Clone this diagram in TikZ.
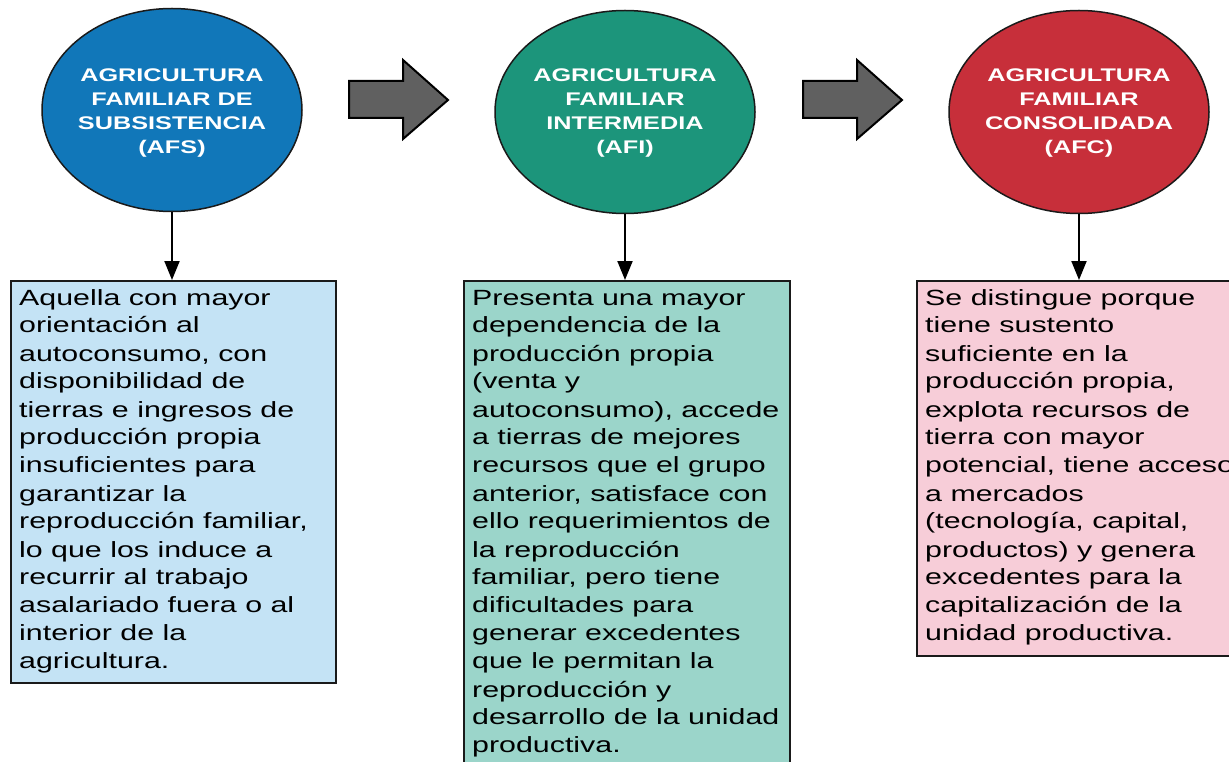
\documentclass[tikz,border=0pt]{standalone}
\usepackage{fontspec}
\setmainfont[FakeStretch=1.38]{Liberation Sans}
\usetikzlibrary{shapes.geometric,arrows.meta}
\definecolor{cblue}{HTML}{1177B9}
\definecolor{cgreen}{HTML}{1C957B}
\definecolor{cred}{HTML}{C72F3A}
\definecolor{fblue}{HTML}{C4E3F5}
\definecolor{fgreen}{HTML}{9BD5CA}
\definecolor{fred}{HTML}{F7CDD8}
\definecolor{agray}{HTML}{606060}
\definecolor{edge}{HTML}{1A1A1A}
\tikzset{
  oval/.style={ellipse, draw=edge, line width=1.5pt, minimum width=260pt, minimum height=203pt, inner sep=0pt},
  ovaltext/.style={text=white, align=center, inner sep=0pt, font=\fontsize{18.3}{24}\selectfont\bfseries},
  infobox/.style={rectangle, draw=edge, line width=2pt, anchor=north west, inner sep=0pt},
  infotext/.style={anchor=base west, inner sep=0pt, text=black},
  down/.style={line width=2pt, -{Triangle[width=15pt,length=19pt]}},
  blockarrow/.style={fill=agray, draw=black, line width=2pt, line join=miter}
}
\newcommand{\boxtext}[1]{\parbox[t]{340pt}{\fontsize{22}{28}\selectfont\raggedright #1}}
\begin{document}
\begin{tikzpicture}[x=1pt,y=-1pt]
\useasboundingbox (0,0) rectangle (1229,762);
\clip (0,0) rectangle (1229,762);
\fill[white] (0,0) rectangle (1229,762);
% ovals
\node[oval, fill=cblue] (c1) at (172,110) {};
\node[oval, fill=cgreen] (c2) at (625,112) {};
\node[oval, fill=cred] (c3) at (1079,112) {};
\node[ovaltext] (l1) at (172,113) {AGRICULTURA\\FAMILIAR DE\\SUBSISTENCIA\\(AFS)};
\node[ovaltext] (l2) at (625,113) {AGRICULTURA\\FAMILIAR\\INTERMEDIA\\(AFI)};
\node[ovaltext] (l3) at (1079,113) {AGRICULTURA\\FAMILIAR\\CONSOLIDADA\\(AFC)};
% block arrows
\draw[blockarrow] (349,81) -- (403,81) -- (403,60) -- (448,100) -- (403,139) -- (403,118) -- (349,118) -- cycle;
\draw[blockarrow] (803,81) -- (857,81) -- (857,60) -- (902,100) -- (857,139) -- (857,118) -- (803,118) -- cycle;
% boxes
\node[infobox, fill=fblue, minimum width=325pt, minimum height=402pt] (b1) at (10,280) {};
\node[infobox, fill=fgreen, minimum width=326pt, minimum height=500pt] (b2) at (463,280) {};
\node[infobox, fill=fred, minimum width=340pt, minimum height=375pt] (b3) at (916,280) {};
% connectors
\draw[down] (c1.south) -- (c1.south |- b1.north);
\draw[down] (c2.south) -- (c2.south |- b2.north);
\draw[down] (c3.south) -- (c3.south |- b3.north);
% texts
\node[infotext] (t1) at (19,305) {\boxtext{Aquella con mayor\\orientación al\\autoconsumo, con\\disponibilidad de\\tierras e ingresos de\\producción propia\\insuficientes para\\garantizar la\\reproducción familiar,\\lo que los induce a\\recurrir al trabajo\\asalariado fuera o al\\interior de la\\agricultura.}};
\node[infotext] (t2) at (472,305) {\boxtext{Presenta una mayor\\dependencia de la\\producción propia\\(venta y\\autoconsumo), accede\\a tierras de mejores\\recursos que el grupo\\anterior, satisface con\\ello requerimientos de\\la reproducción\\familiar, pero tiene\\dificultades para\\generar excedentes\\que le permitan la\\reproducción y\\desarrollo de la unidad\\productiva.}};
\node[infotext] (t3) at (925,305) {\boxtext{Se distingue porque\\tiene sustento\\suficiente en la\\producción propia,\\explota recursos de\\tierra con mayor\\potencial, tiene acceso\\a mercados\\(tecnología, capital,\\productos) y genera\\excedentes para la\\capitalización de la\\unidad productiva.}};
\end{tikzpicture}
\end{document}
